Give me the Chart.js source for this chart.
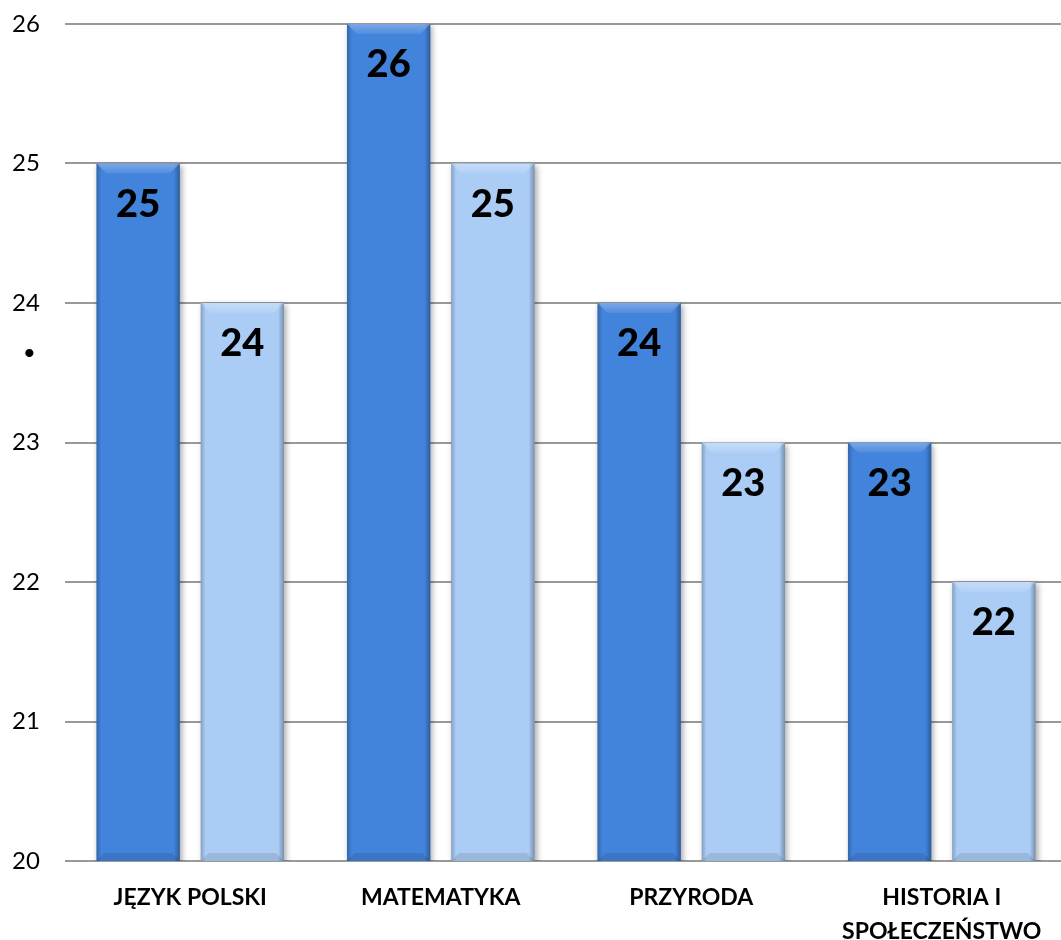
<!DOCTYPE html>
<html lang="pl">
<head>
<meta charset="utf-8">
<script src="https://cdn.jsdelivr.net/npm/chart.js@4/dist/chart.umd.min.js"></script>
<style>
  html, body { margin: 0; padding: 0; background: #fff; overflow: hidden; }
  #wrap { position: relative; width: 1067px; height: 940px; }
  #kropka { position: absolute; left: 23px; top: 338px; font: 22px Lato, sans-serif; color: #000; }
</style>
</head>
<body>
<div id="wrap">
  <canvas id="wykres"></canvas>
  <span id="kropka">•</span>
</div>
<script>
// --- dane ---
const przedmioty = ['JĘZYK POLSKI', 'MATEMATYKA', 'PRZYRODA', ['HISTORIA I', 'SPOŁECZEŃSTWO']];
const wynikiSzkoly = [25, 26, 24, 23];
const wynikiPorownawcze = [24, 25, 23, 22];
const osY = { min: 20, max: 26, krok: 1 };

const kolorCiemny = '#4283db';
const kolorJasny = '#abcdf5';

// cien pod slupkami
const cienPlugin = {
    id: 'cien',
    beforeDatasetsDraw(chart) {
        const ctx = chart.ctx;
        ctx.save();
        ctx.shadowColor = 'rgba(0,0,0,0.35)';
        ctx.shadowBlur = 6;
        ctx.shadowOffsetX = 2;
        ctx.shadowOffsetY = 2;
    },
    afterDatasetsDraw(chart) {
        chart.ctx.restore();
    }
};

// efekt fazowania + etykiety wartosci
const fazaPlugin = {
    id: 'faza',
    afterDatasetsDraw(chart) {
        const ctx = chart.ctx;
        const dol = chart.chartArea.bottom;
        chart.data.datasets.forEach((ds, i) => {
            const meta = chart.getDatasetMeta(i);
            meta.data.forEach((bar, j) => {
                const l = bar.x - bar.width / 2;
                const r = bar.x + bar.width / 2;
                const t = bar.y;
                const b = Math.min(bar.base, dol);
                ctx.save();
                // boki
                let g = ctx.createLinearGradient(l, 0, l + 5, 0);
                g.addColorStop(0, 'rgba(0,0,0,0.22)');
                g.addColorStop(1, 'rgba(0,0,0,0)');
                ctx.fillStyle = g;
                ctx.fillRect(l, t, 5, b - t);
                g = ctx.createLinearGradient(r - 6, 0, r, 0);
                g.addColorStop(0, 'rgba(0,0,0,0)');
                g.addColorStop(1, 'rgba(0,0,0,0.3)');
                ctx.fillStyle = g;
                ctx.fillRect(r - 6, t, 6, b - t);
                // gorna faza
                const h = 10;
                ctx.beginPath();
                ctx.moveTo(l, t);
                ctx.lineTo(r, t);
                ctx.lineTo(r - h, t + h);
                ctx.lineTo(l + h, t + h);
                ctx.closePath();
                g = ctx.createLinearGradient(0, t, 0, t + h);
                g.addColorStop(0, 'rgba(255,255,255,0.3)');
                g.addColorStop(1, 'rgba(255,255,255,0.08)');
                ctx.fillStyle = g;
                ctx.fill();
                // dolna faza
                const hd = 8;
                ctx.beginPath();
                ctx.moveTo(l, b);
                ctx.lineTo(r, b);
                ctx.lineTo(r - hd, b - hd);
                ctx.lineTo(l + hd, b - hd);
                ctx.closePath();
                ctx.fillStyle = 'rgba(0,0,0,0.1)';
                ctx.fill();
                // wartosc
                ctx.fillStyle = '#000';
                ctx.font = '900 38px Lato, sans-serif';
                ctx.textAlign = 'center';
                ctx.textBaseline = 'middle';
                ctx.fillText(String(ds.data[j]), bar.x, t + 41);
                ctx.restore();
            });
        });
    }
};

new Chart(document.getElementById('wykres'), {
    type: 'bar',
    data: {
        labels: przedmioty,
        datasets: [
            { label: 'Szkoła', data: wynikiSzkoly, backgroundColor: kolorCiemny },
            { label: 'Porównanie', data: wynikiPorownawcze, backgroundColor: kolorJasny }
        ]
    },
    options: {
        responsive: true,
        maintainAspectRatio: false,
        animation: false,
        barPercentage: 0.8,
        categoryPercentage: 0.832,
        layout: { padding: { top: 24, left: 12, right: 0, bottom: 0 } },
        plugins: {
            legend: { display: false },
            tooltip: { enabled: false }
        },
        scales: {
            x: {
                grid: { display: false },
                border: { display: false },
                ticks: {
                    color: '#000',
                    padding: 12,
                    maxRotation: 0,
                    autoSkip: false,
                    font: { family: 'Lato, sans-serif', size: 23, weight: 'bold', lineHeight: 1.48 }
                },
                afterFit(s) { s.height = 79; }
            },
            y: {
                min: osY.min,
                max: osY.max,
                grid: { color: '#999', lineWidth: 2, drawTicks: false },
                border: { display: false },
                ticks: {
                    stepSize: osY.krok,
                    color: '#000',
                    padding: 0,
                    crossAlign: 'far',
                    font: { family: 'Lato, sans-serif', size: 24 }
                },
                afterFit(s) { s.width = 53; }
            }
        }
    },
    plugins: [cienPlugin, fazaPlugin]
});
</script>
</body>
</html>
